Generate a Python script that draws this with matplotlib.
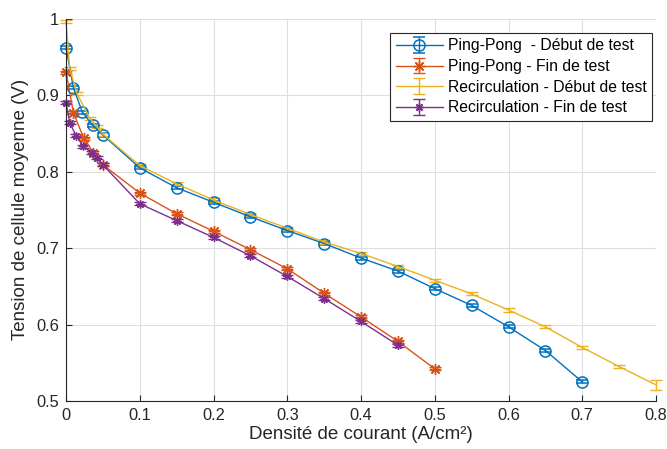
import matplotlib.pyplot as plt

plt.rcParams['font.family'] = ['Liberation Sans', 'DejaVu Sans']
plt.rcParams['font.size'] = 10

# Ping-Pong - Début de test
pp_deb_x = [0, 0.01, 0.022, 0.036, 0.05, 0.1, 0.15, 0.2, 0.25, 0.3, 0.35, 0.4, 0.45,
            0.5, 0.55, 0.6, 0.65, 0.7]
pp_deb_y = [0.962, 0.910, 0.878, 0.861, 0.848, 0.805, 0.779, 0.760, 0.741, 0.723, 0.706,
            0.687, 0.670, 0.647, 0.625, 0.597, 0.566, 0.525]
pp_deb_err = [0.002] * len(pp_deb_x)

# Ping-Pong - Fin de test
pp_fin_x = [0, 0.01, 0.024, 0.037, 0.05, 0.1, 0.15, 0.2, 0.25, 0.3, 0.35, 0.4, 0.45, 0.5]
pp_fin_y = [0.930, 0.877, 0.844, 0.825, 0.809, 0.772, 0.745, 0.722, 0.698, 0.673, 0.641,
            0.610, 0.578, 0.542]
pp_fin_err = [0.002] * len(pp_fin_x)

# Recirculation - Début de test
rec_deb_x = [0, 0.005, 0.015, 0.032, 0.042, 0.05, 0.1, 0.15, 0.2, 0.25, 0.3, 0.35, 0.4,
             0.45, 0.5, 0.55, 0.6, 0.65, 0.7, 0.75, 0.8]
rec_deb_y = [0.997, 0.935, 0.902, 0.870, 0.859, 0.849, 0.808, 0.784, 0.763, 0.744, 0.726,
             0.708, 0.693, 0.676, 0.658, 0.640, 0.619, 0.597, 0.570, 0.545, 0.521]
rec_deb_err = [0.002] * (len(rec_deb_x) - 1) + [0.007]

# Recirculation - Fin de test
rec_fin_x = [0, 0.005, 0.0136, 0.0235, 0.035, 0.042, 0.05, 0.1, 0.15, 0.2, 0.25, 0.3,
             0.35, 0.4, 0.45]
rec_fin_y = [0.890, 0.864, 0.847, 0.833, 0.825, 0.818, 0.809, 0.758, 0.736, 0.714, 0.690,
             0.663, 0.634, 0.604, 0.573]
rec_fin_err = [0.002] * len(rec_fin_x)

labels = ['Ping-Pong  - Début de test', 'Ping-Pong - Fin de test',
          'Recirculation - Début de test', 'Recirculation - Fin de test']
colors = ['#0072BD', '#D95319', '#EDB120', '#7E2F8E']

fig = plt.figure(figsize=(6.67, 4.49), dpi=100)
ax = fig.add_axes([0.099, 0.107, 0.8845, 0.851])

asterisk = (8, 2, 0)
common = dict(lw=1, capsize=4, elinewidth=1, clip_on=False)
ax.errorbar(pp_deb_x, pp_deb_y, yerr=pp_deb_err, color=colors[0], marker='o',
            markersize=8, markerfacecolor='none', markeredgewidth=1.1,
            label=labels[0], **common)
ax.errorbar(pp_fin_x, pp_fin_y, yerr=pp_fin_err, color=colors[1], marker=asterisk,
            markersize=8, markeredgewidth=1.0, label=labels[1], **common)
ax.errorbar(rec_deb_x, rec_deb_y, yerr=rec_deb_err, color=colors[2], marker='none',
            label=labels[2], **common)
ax.errorbar(rec_fin_x, rec_fin_y, yerr=rec_fin_err, color=colors[3], marker=asterisk,
            markersize=6, markeredgewidth=1.0, label=labels[3], **common)

ax.set_xlim(0, 0.8)
ax.set_ylim(0.5, 1)
ax.set_xticks([0, 0.1, 0.2, 0.3, 0.4, 0.5, 0.6, 0.7, 0.8])
ax.set_xticklabels(['0', '0.1', '0.2', '0.3', '0.4', '0.5', '0.6', '0.7', '0.8'])
ax.set_yticks([0.5, 0.6, 0.7, 0.8, 0.9, 1])
ax.set_yticklabels(['0.5', '0.6', '0.7', '0.8', '0.9', '1'])
ax.grid(True, color='#dfdfdf', lw=0.8)
ax.set_axisbelow(True)
for s in ['top', 'right']:
    ax.spines[s].set_visible(False)
for s in ['left', 'bottom']:
    ax.spines[s].set_color('#262626')
    ax.spines[s].set_linewidth(0.8)
ax.tick_params(direction='in', length=4, colors='#262626', labelsize=11.8, width=0.8,
               pad=5)

ax.set_xlabel('Densité de courant (A/cm²)', fontsize=13.5, color='#262626', labelpad=2)
ax.set_ylabel('Tension de cellule moyenne (V)', fontsize=13.5, color='#262626',
              labelpad=5)

leg = ax.legend(loc='upper right', bbox_to_anchor=(0.993, 0.963), borderaxespad=0,
                fancybox=False, framealpha=1, edgecolor='#262626', fontsize=11.3,
                handlelength=3.0, handletextpad=0.3, labelspacing=0.36, borderpad=0.35)
leg.get_frame().set_linewidth(0.8)

plt.savefig('out.png', dpi=100, facecolor='white')
